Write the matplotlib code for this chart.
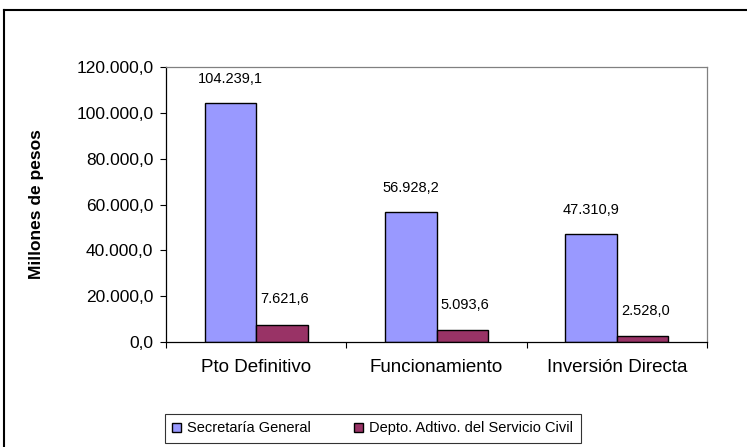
import numpy as np
import matplotlib.pyplot as plt
from matplotlib.ticker import FuncFormatter, FixedLocator
from matplotlib.lines import Line2D

plt.rcParams['font.family'] = ['Liberation Sans', 'DejaVu Sans']

# Data
categories = ['Pto Definitivo', 'Funcionamiento', 'Inversión Directa']
secretaria = [104239.1, 56928.2, 47310.9]
depto = [7621.6, 5093.6, 2528.0]
series_names = ['Secretaría General', 'Depto. Adtivo. del Servicio Civil']


def es_fmt(v):
    # Spanish number format: 104.239,1
    s = f'{v:,.1f}'
    return s.replace(',', 'X').replace('.', ',').replace('X', '.')


fig = plt.figure(figsize=(7.47, 4.47), dpi=100)
ax = fig.add_axes([0.2222, 0.2349, 0.7243, 0.6152])

x = np.arange(len(categories))
w = 0.286
b1 = ax.bar(x - w / 2, secretaria, w, color='#9999FF', edgecolor='black',
            linewidth=1.0, label=series_names[0])
b2 = ax.bar(x + w / 2, depto, w, color='#993366', edgecolor='black',
            linewidth=1.0, label=series_names[1])

for rect, v in zip(b1, secretaria):
    ax.annotate(es_fmt(v), (rect.get_x() + rect.get_width() / 2, v),
                xytext=(0, 12), textcoords='offset points',
                ha='center', va='bottom', fontsize=10.5)
for rect, v in zip(b2, depto):
    ax.annotate(es_fmt(v), (rect.get_x() + rect.get_width() / 2, v),
                xytext=(2, 13), textcoords='offset points',
                ha='center', va='bottom', fontsize=10.5)

ax.set_xlim(-0.5, 2.5)
ax.set_ylim(0, 120000)
ax.set_yticks(np.arange(0, 120001, 20000))
ax.yaxis.set_major_formatter(FuncFormatter(lambda v, p: es_fmt(v)))
ax.set_xticks(x)
ax.set_xticklabels(categories)
ax.xaxis.set_minor_locator(FixedLocator([-0.5, 0.5, 1.5, 2.5]))
ax.tick_params(axis='x', which='major', length=0, pad=12.5, labelsize=13.5)
ax.tick_params(axis='x', which='minor', length=4.5, width=0.8, direction='out')
ax.tick_params(axis='y', length=4, width=0.8, pad=5, labelsize=12.5)

ax.spines['left'].set_color('black')
ax.spines['bottom'].set_color('black')
ax.spines['top'].set_color('#808080')
ax.spines['right'].set_color('#808080')
for sp in ax.spines.values():
    sp.set_linewidth(0.9)

fig.text(37 / 747, 1 - 204.5 / 447, 'Millones de pesos', rotation=90,
         ha='center', va='center', fontsize=12.5, fontweight='bold')

leg = fig.legend(loc='center', bbox_to_anchor=(0.4987, 0.0414), ncol=2,
                 fontsize=10.5, fancybox=False, edgecolor='black',
                 handlelength=0.62, handleheight=0.62, handletextpad=0.4,
                 columnspacing=3.0, borderpad=0.5, borderaxespad=0)
leg.get_frame().set_linewidth(0.8)

# outer chart border (partly cut off in the original)
fig.add_artist(Line2D([0.006, 1.0], [0.9776, 0.9776], color='black', lw=1.5,
                      transform=fig.transFigure))
fig.add_artist(Line2D([0.006, 0.006], [0.0, 0.9776], color='black', lw=1.5,
                      transform=fig.transFigure))

plt.savefig('out.png', dpi=100)
